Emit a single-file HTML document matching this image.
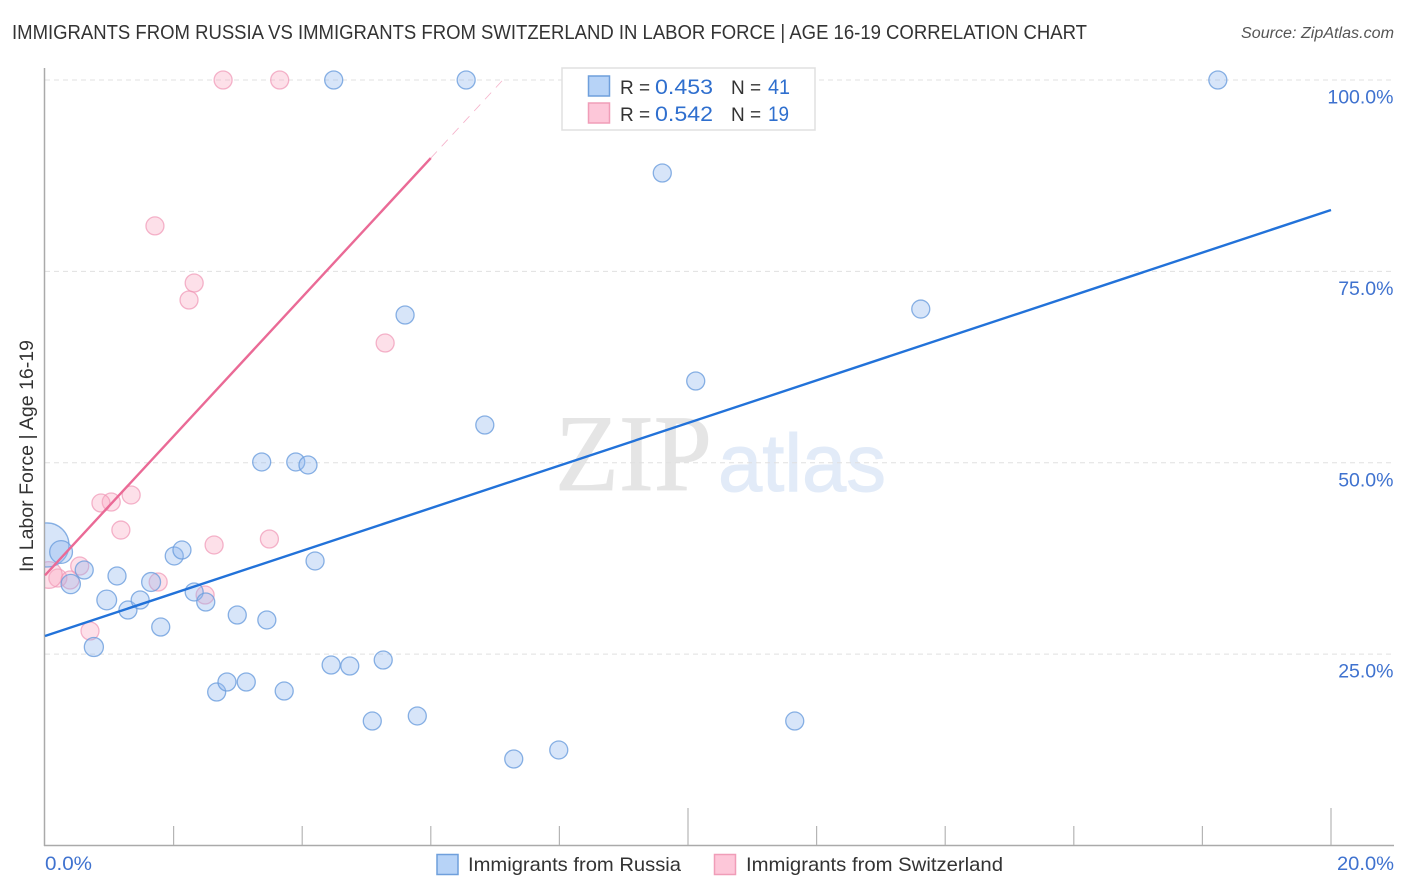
<!DOCTYPE html>
<html lang="en">
<head>
<meta charset="utf-8">
<title>Immigrants from Russia vs Immigrants from Switzerland Correlation Chart</title>
<style>
html,body{margin:0;padding:0;background:#fff;}
svg{display:block;font-family:"Liberation Sans",sans-serif;}
</style>
</head>
<body>
<svg id="chart" width="1406" height="892" viewBox="0 0 1406 892" xmlns="http://www.w3.org/2000/svg">
  <defs>
    <clipPath id="plot-clip"><rect x="45" y="60" width="1349" height="786"></rect></clipPath>
  </defs>
  <text x="12" y="39" font-size="20" fill="#333" textLength="1075" lengthAdjust="spacingAndGlyphs">IMMIGRANTS FROM RUSSIA VS IMMIGRANTS FROM SWITZERLAND IN LABOR FORCE | AGE 16-19 CORRELATION CHART</text>
  <text x="1241" y="38" font-size="15.5" font-style="italic" fill="#555" textLength="153" lengthAdjust="spacingAndGlyphs">Source: ZipAtlas.com</text>

  <text x="555" y="490" font-family="'Liberation Serif',serif" font-size="109" fill="#e5e5e5" stroke="#e5e5e5" stroke-width="0.8" textLength="157" lengthAdjust="spacingAndGlyphs">ZIP</text>
  <text x="718" y="491" font-size="82" fill="#e2ebf8" stroke="#e2ebf8" stroke-width="1" textLength="168" lengthAdjust="spacingAndGlyphs">atlas</text>

  <g id="grid-layer"></g>
  <g id="axis-layer"></g>
  <g id="pink-layer" clip-path="url(#plot-clip)"></g>
  <g id="blue-layer" clip-path="url(#plot-clip)"></g>
  <g id="trend-layer"></g>

  <text x="33" y="456" font-size="19" fill="#333" text-anchor="middle" transform="rotate(-90 33 456)" textLength="232" lengthAdjust="spacingAndGlyphs">In Labor Force | Age 16-19</text>

  <g>
    <rect x="562" y="68" width="253" height="62" fill="#fff" stroke="#e0e0e0" stroke-width="1.5"></rect>
    <rect x="588.5" y="76" width="21" height="20" fill="#b7d3f7" stroke="#6f9fdc" stroke-width="1.5"></rect>
    <rect x="588.5" y="103" width="21" height="20" fill="#fdc7d9" stroke="#f09db8" stroke-width="1.5"></rect>
    <text x="620" y="94" font-size="19" fill="#333">R =</text>
    <text x="655" y="94" font-size="21" fill="#2f6fce" textLength="58" lengthAdjust="spacingAndGlyphs">0.453</text>
    <text x="731" y="94" font-size="19" fill="#333">N =</text>
    <text x="768" y="94" font-size="21" fill="#2f6fce" textLength="22" lengthAdjust="spacingAndGlyphs">41</text>
    <text x="620" y="121" font-size="19" fill="#333">R =</text>
    <text x="655" y="121" font-size="21" fill="#2f6fce" textLength="58" lengthAdjust="spacingAndGlyphs">0.542</text>
    <text x="731" y="121" font-size="19" fill="#333">N =</text>
    <text x="768" y="121" font-size="21" fill="#2f6fce" textLength="21" lengthAdjust="spacingAndGlyphs">19</text>
  </g>

  <g>
    <rect x="437" y="854.5" width="21" height="20" fill="#b7d3f7" stroke="#6f9fdc" stroke-width="1.5"></rect>
    <text x="468" y="871" font-size="19.5" fill="#333" textLength="213" lengthAdjust="spacingAndGlyphs">Immigrants from Russia</text>
    <rect x="714.5" y="854.5" width="21" height="20" fill="#fdc7d9" stroke="#f09db8" stroke-width="1.5"></rect>
    <text x="746" y="871" font-size="19.5" fill="#333" textLength="257" lengthAdjust="spacingAndGlyphs">Immigrants from Switzerland</text>
  </g>

<script>
// ---- Data (percent values) ----
const russiaX = [0.03,0.25,0.40,0.61,0.76,0.96,1.12,1.29,1.48,1.65,1.80,2.01,2.13,2.32,2.50,2.67,2.83,2.99,3.13,3.37,3.45,3.72,3.90,4.09,4.20,4.45,4.74,5.09,5.26,5.60,5.79,6.84,7.29,7.99,9.60,10.12,11.66,13.62,18.24,4.49,6.55];
const russiaY = [39.26,38.34,34.16,35.99,25.93,32.07,35.21,30.76,32.07,34.42,28.54,37.82,38.60,33.12,31.81,20.05,21.36,30.11,21.36,50.10,29.46,20.18,50.10,49.71,37.17,23.58,23.45,16.26,24.23,69.30,16.92,54.93,11.30,12.48,87.85,60.68,16.26,70.08,100,100,100];
const russiaWeight = [6,1.6,1.15,1,1.12,1.2,1,1,1,1.1,1,1,1,1,1,1,1,1,1,1,1,1,1,1,1,1,1,1,1,1,1,1,1,1,1,1,1,1,1,1,1];
const swissX = [1.71,2.32,2.24,2.77,3.65,5.29,1.34,1.03,0.87,1.18,2.63,3.49,1.76,2.49,0.70,0.54,0.20,0.39,0.06];
const swissY = [80.94,73.48,71.26,100,100,65.64,45.79,44.87,44.74,41.21,39.26,40.04,34.42,32.72,28.02,36.51,34.94,34.68,35.34];
const swissWeight = [1,1,1,1,1,1,1,1,1,1,1,1,1,1,1,1,1,1,2.2];
const russiaTrendX = [0,20];
const russiaTrendY = [27.37,83.02];
const swissTrendX = [0,6.0];
const swissTrendY = [35.3,89.8];
const swissDashX = [6.0,7.12];
const swissDashY = [89.8,100];
const xTicks = [0,2,4,6,8,10,12,14,16,18,20];
const xMajorTicks = [0,10,20];
const xTickLabels = ["0.0%","20.0%"];
const yTicks = [100,75,50,25];
const yTickLabels = ["100.0%","75.0%","50.0%","25.0%"];

// ---- Axis functions ----
const sx = v => 45 + v * 64.3;
const sy = v => 845.5 - v * 7.655;
const NS = "http://www.w3.org/2000/svg";
function mk(tag, parent, attrs){
  const el = document.createElementNS(NS, tag);
  for (const k in attrs) el.setAttribute(k, attrs[k]);
  parent.appendChild(el);
  return el;
}

const gridLayer = document.getElementById("grid-layer");
const axisLayer = document.getElementById("axis-layer");
const pinkLayer = document.getElementById("pink-layer");
const blueLayer = document.getElementById("blue-layer");
const trendLayer = document.getElementById("trend-layer");

yTicks.forEach((t, i) => {
  const g = mk("line", gridLayer, {x1:45, x2:1394, y1:sy(t), y2:sy(t), stroke:"#e0e0e0", "stroke-width":1, "stroke-dasharray":"5 4"});
  
  
  const l = mk("text", axisLayer, {x:1393.5, y:sy(t) + 23.5, "font-size":19.5, fill:"#3f72cf", "text-anchor":"end"});
  l.textContent = yTickLabels[i];
  
  
});

const yAxis = mk("line", axisLayer, {x1:44.5, x2:44.5, y1:68, y2:846, stroke:"#aaa", "stroke-width":1.5});


const xAxis = mk("line", axisLayer, {x1:44, x2:1394, y1:845.5, y2:845.5, stroke:"#aaa", "stroke-width":1.5});



xTicks.forEach(t => {
  if (t === 0) return;
  const top = xMajorTicks.includes(t) ? 808 : 826;
  const k = mk("line", axisLayer, {x1:sx(t), x2:sx(t), y1:top, y2:845, stroke:"#b5b5b5", "stroke-width":1.2});
  
  
});

const xLabelLeft = mk("text", axisLayer, {x:45, y:870, "font-size":19.5, fill:"#3f72cf", textLength:47, lengthAdjust:"spacingAndGlyphs"});
xLabelLeft.textContent = xTickLabels[0];


const xLabelRight = mk("text", axisLayer, {x:1337, y:870, "font-size":19.5, fill:"#3f72cf", textLength:57, lengthAdjust:"spacingAndGlyphs"});
xLabelRight.textContent = xTickLabels[1];



swissX.forEach((v, i) => {
  const c = mk("circle", pinkLayer, {cx:sx(v), cy:sy(swissY[i]), r:9 * Math.sqrt(swissWeight[i]), fill:"#f9a9c3", "fill-opacity":0.36, stroke:"#f096b5", "stroke-opacity":0.7, "stroke-width":1.3});
  
  
});
russiaX.forEach((v, i) => {
  const c = mk("circle", blueLayer, {cx:sx(v), cy:sy(russiaY[i]), r:9 * Math.sqrt(russiaWeight[i]), fill:"#8fb8ee", "fill-opacity":0.36, stroke:"#6b9edd", "stroke-opacity":0.8, "stroke-width":1.3});
  
  
});

const swissDash = mk("line", trendLayer, {x1:sx(swissDashX[0]), y1:sy(swissDashY[0]), x2:sx(swissDashX[1]), y2:sy(swissDashY[1]), stroke:"#ee7fa6", "stroke-width":0.8, "stroke-dasharray":"9 7", "stroke-opacity":0.6});


const swissTrend = mk("line", trendLayer, {x1:sx(swissTrendX[0]), y1:sy(swissTrendY[0]), x2:sx(swissTrendX[1]), y2:sy(swissTrendY[1]), stroke:"#ea6a96", "stroke-width":2.4});


const russiaTrend = mk("line", trendLayer, {x1:sx(russiaTrendX[0]), y1:sy(russiaTrendY[0]), x2:sx(russiaTrendX[1]), y2:sy(russiaTrendY[1]), stroke:"#2272d9", "stroke-width":2.4});


</script>
</svg>
</body>
</html>
